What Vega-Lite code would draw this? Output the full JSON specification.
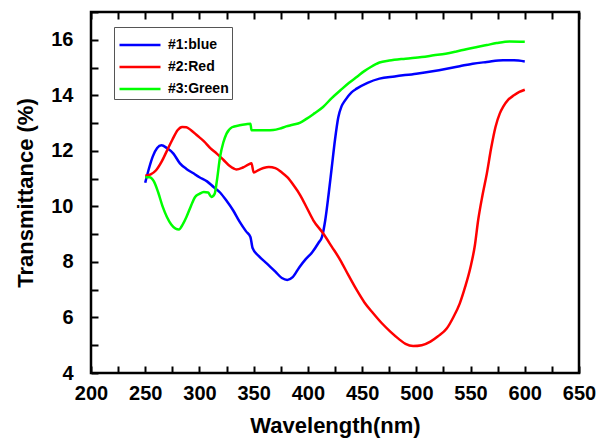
{
  "$schema": "https://vega.github.io/schema/vega-lite/v6.json",
  "width": 488,
  "height": 361,
  "autosize": "none",
  "padding": {"left": 91, "top": 12, "right": 18, "bottom": 68},
  "background": "white",
  "config": {
    "font": "Liberation Sans",
    "view": {"stroke": "black", "strokeWidth": 2.5},
    "axis": {
      "grid": false,
      "domain": false,
      "labelFontWeight": "bold",
      "labelFontSize": 20,
      "labelFlush": false,
      "labelOverlap": false
    }
  },
  "data": {
    "values": [
      {"wl": 250, "t": 10.85, "s": "#1:blue"},
      {"wl": 253, "t": 11.3, "s": "#1:blue"},
      {"wl": 257, "t": 11.8, "s": "#1:blue"},
      {"wl": 261, "t": 12.1, "s": "#1:blue"},
      {"wl": 265, "t": 12.2, "s": "#1:blue"},
      {"wl": 270, "t": 12.1, "s": "#1:blue"},
      {"wl": 276, "t": 11.9, "s": "#1:blue"},
      {"wl": 282, "t": 11.55, "s": "#1:blue"},
      {"wl": 288, "t": 11.35, "s": "#1:blue"},
      {"wl": 294, "t": 11.2, "s": "#1:blue"},
      {"wl": 300, "t": 11.05, "s": "#1:blue"},
      {"wl": 307, "t": 10.9, "s": "#1:blue"},
      {"wl": 313, "t": 10.7, "s": "#1:blue"},
      {"wl": 319, "t": 10.5, "s": "#1:blue"},
      {"wl": 325, "t": 10.2, "s": "#1:blue"},
      {"wl": 331, "t": 9.86, "s": "#1:blue"},
      {"wl": 337, "t": 9.45, "s": "#1:blue"},
      {"wl": 343, "t": 9.1, "s": "#1:blue"},
      {"wl": 347, "t": 8.9, "s": "#1:blue"},
      {"wl": 349, "t": 8.5, "s": "#1:blue"},
      {"wl": 355, "t": 8.2, "s": "#1:blue"},
      {"wl": 362, "t": 7.95, "s": "#1:blue"},
      {"wl": 370, "t": 7.65, "s": "#1:blue"},
      {"wl": 376, "t": 7.42, "s": "#1:blue"},
      {"wl": 381, "t": 7.35, "s": "#1:blue"},
      {"wl": 386, "t": 7.45, "s": "#1:blue"},
      {"wl": 392, "t": 7.8, "s": "#1:blue"},
      {"wl": 398, "t": 8.1, "s": "#1:blue"},
      {"wl": 404, "t": 8.35, "s": "#1:blue"},
      {"wl": 410, "t": 8.7, "s": "#1:blue"},
      {"wl": 413, "t": 8.9, "s": "#1:blue"},
      {"wl": 416, "t": 9.5, "s": "#1:blue"},
      {"wl": 419, "t": 10.4, "s": "#1:blue"},
      {"wl": 422, "t": 11.4, "s": "#1:blue"},
      {"wl": 425, "t": 12.4, "s": "#1:blue"},
      {"wl": 428, "t": 13.2, "s": "#1:blue"},
      {"wl": 431, "t": 13.6, "s": "#1:blue"},
      {"wl": 434, "t": 13.8, "s": "#1:blue"},
      {"wl": 440, "t": 14.1, "s": "#1:blue"},
      {"wl": 445, "t": 14.24, "s": "#1:blue"},
      {"wl": 455, "t": 14.45, "s": "#1:blue"},
      {"wl": 466, "t": 14.6, "s": "#1:blue"},
      {"wl": 480, "t": 14.68, "s": "#1:blue"},
      {"wl": 500, "t": 14.78, "s": "#1:blue"},
      {"wl": 515, "t": 14.87, "s": "#1:blue"},
      {"wl": 528, "t": 14.96, "s": "#1:blue"},
      {"wl": 540, "t": 15.05, "s": "#1:blue"},
      {"wl": 552, "t": 15.14, "s": "#1:blue"},
      {"wl": 565, "t": 15.2, "s": "#1:blue"},
      {"wl": 580, "t": 15.26, "s": "#1:blue"},
      {"wl": 590, "t": 15.26, "s": "#1:blue"},
      {"wl": 600, "t": 15.22, "s": "#1:blue"},
      {"wl": 250, "t": 11.1, "s": "#2:Red"},
      {"wl": 255, "t": 11.15, "s": "#2:Red"},
      {"wl": 260, "t": 11.3, "s": "#2:Red"},
      {"wl": 265, "t": 11.6, "s": "#2:Red"},
      {"wl": 270, "t": 12.0, "s": "#2:Red"},
      {"wl": 275, "t": 12.4, "s": "#2:Red"},
      {"wl": 280, "t": 12.75, "s": "#2:Red"},
      {"wl": 284, "t": 12.86, "s": "#2:Red"},
      {"wl": 288, "t": 12.85, "s": "#2:Red"},
      {"wl": 292, "t": 12.75, "s": "#2:Red"},
      {"wl": 298, "t": 12.55, "s": "#2:Red"},
      {"wl": 304, "t": 12.35, "s": "#2:Red"},
      {"wl": 310, "t": 12.1, "s": "#2:Red"},
      {"wl": 316, "t": 11.9, "s": "#2:Red"},
      {"wl": 322, "t": 11.68, "s": "#2:Red"},
      {"wl": 328, "t": 11.45, "s": "#2:Red"},
      {"wl": 334, "t": 11.33, "s": "#2:Red"},
      {"wl": 340, "t": 11.4, "s": "#2:Red"},
      {"wl": 345, "t": 11.5, "s": "#2:Red"},
      {"wl": 348, "t": 11.55, "s": "#2:Red"},
      {"wl": 350, "t": 11.22, "s": "#2:Red"},
      {"wl": 354, "t": 11.3, "s": "#2:Red"},
      {"wl": 359, "t": 11.38, "s": "#2:Red"},
      {"wl": 364, "t": 11.42, "s": "#2:Red"},
      {"wl": 370, "t": 11.38, "s": "#2:Red"},
      {"wl": 376, "t": 11.22, "s": "#2:Red"},
      {"wl": 381, "t": 11.05, "s": "#2:Red"},
      {"wl": 387, "t": 10.75, "s": "#2:Red"},
      {"wl": 393, "t": 10.4, "s": "#2:Red"},
      {"wl": 399, "t": 9.95, "s": "#2:Red"},
      {"wl": 405, "t": 9.5, "s": "#2:Red"},
      {"wl": 414, "t": 9.03, "s": "#2:Red"},
      {"wl": 422, "t": 8.55, "s": "#2:Red"},
      {"wl": 430, "t": 8.06, "s": "#2:Red"},
      {"wl": 437, "t": 7.55, "s": "#2:Red"},
      {"wl": 445, "t": 6.99, "s": "#2:Red"},
      {"wl": 452, "t": 6.55, "s": "#2:Red"},
      {"wl": 460, "t": 6.16, "s": "#2:Red"},
      {"wl": 468, "t": 5.8, "s": "#2:Red"},
      {"wl": 476, "t": 5.49, "s": "#2:Red"},
      {"wl": 484, "t": 5.22, "s": "#2:Red"},
      {"wl": 490, "t": 5.05, "s": "#2:Red"},
      {"wl": 497, "t": 4.97, "s": "#2:Red"},
      {"wl": 505, "t": 5.0, "s": "#2:Red"},
      {"wl": 513, "t": 5.13, "s": "#2:Red"},
      {"wl": 520, "t": 5.32, "s": "#2:Red"},
      {"wl": 528, "t": 5.6, "s": "#2:Red"},
      {"wl": 534, "t": 6.0, "s": "#2:Red"},
      {"wl": 540, "t": 6.5, "s": "#2:Red"},
      {"wl": 545, "t": 7.1, "s": "#2:Red"},
      {"wl": 550, "t": 7.82, "s": "#2:Red"},
      {"wl": 554, "t": 8.6, "s": "#2:Red"},
      {"wl": 557, "t": 9.5, "s": "#2:Red"},
      {"wl": 561, "t": 10.4, "s": "#2:Red"},
      {"wl": 565, "t": 11.18, "s": "#2:Red"},
      {"wl": 569, "t": 12.1, "s": "#2:Red"},
      {"wl": 573, "t": 12.86, "s": "#2:Red"},
      {"wl": 577, "t": 13.35, "s": "#2:Red"},
      {"wl": 580, "t": 13.58, "s": "#2:Red"},
      {"wl": 585, "t": 13.85, "s": "#2:Red"},
      {"wl": 590, "t": 14.0, "s": "#2:Red"},
      {"wl": 595, "t": 14.12, "s": "#2:Red"},
      {"wl": 600, "t": 14.2, "s": "#2:Red"},
      {"wl": 250, "t": 11.05, "s": "#3:Green"},
      {"wl": 254, "t": 11.05, "s": "#3:Green"},
      {"wl": 258, "t": 10.9, "s": "#3:Green"},
      {"wl": 262, "t": 10.5, "s": "#3:Green"},
      {"wl": 266, "t": 10.0, "s": "#3:Green"},
      {"wl": 270, "t": 9.62, "s": "#3:Green"},
      {"wl": 274, "t": 9.35, "s": "#3:Green"},
      {"wl": 278, "t": 9.2, "s": "#3:Green"},
      {"wl": 281, "t": 9.17, "s": "#3:Green"},
      {"wl": 285, "t": 9.38, "s": "#3:Green"},
      {"wl": 288, "t": 9.62, "s": "#3:Green"},
      {"wl": 292, "t": 10.0, "s": "#3:Green"},
      {"wl": 296, "t": 10.34, "s": "#3:Green"},
      {"wl": 300, "t": 10.45, "s": "#3:Green"},
      {"wl": 304, "t": 10.52, "s": "#3:Green"},
      {"wl": 308, "t": 10.5, "s": "#3:Green"},
      {"wl": 311, "t": 10.34, "s": "#3:Green"},
      {"wl": 314, "t": 10.45, "s": "#3:Green"},
      {"wl": 316, "t": 10.9, "s": "#3:Green"},
      {"wl": 319, "t": 11.78, "s": "#3:Green"},
      {"wl": 322, "t": 12.3, "s": "#3:Green"},
      {"wl": 325, "t": 12.62, "s": "#3:Green"},
      {"wl": 330, "t": 12.85, "s": "#3:Green"},
      {"wl": 337, "t": 12.92, "s": "#3:Green"},
      {"wl": 343, "t": 12.96, "s": "#3:Green"},
      {"wl": 347, "t": 12.98, "s": "#3:Green"},
      {"wl": 348, "t": 12.74, "s": "#3:Green"},
      {"wl": 355, "t": 12.74, "s": "#3:Green"},
      {"wl": 362, "t": 12.74, "s": "#3:Green"},
      {"wl": 368, "t": 12.75, "s": "#3:Green"},
      {"wl": 374, "t": 12.8, "s": "#3:Green"},
      {"wl": 380, "t": 12.88, "s": "#3:Green"},
      {"wl": 386, "t": 12.94, "s": "#3:Green"},
      {"wl": 393, "t": 13.02, "s": "#3:Green"},
      {"wl": 399, "t": 13.16, "s": "#3:Green"},
      {"wl": 406, "t": 13.35, "s": "#3:Green"},
      {"wl": 414, "t": 13.58, "s": "#3:Green"},
      {"wl": 422, "t": 13.9, "s": "#3:Green"},
      {"wl": 430, "t": 14.18, "s": "#3:Green"},
      {"wl": 438, "t": 14.45, "s": "#3:Green"},
      {"wl": 445, "t": 14.66, "s": "#3:Green"},
      {"wl": 452, "t": 14.87, "s": "#3:Green"},
      {"wl": 458, "t": 15.02, "s": "#3:Green"},
      {"wl": 466, "t": 15.18, "s": "#3:Green"},
      {"wl": 475, "t": 15.25, "s": "#3:Green"},
      {"wl": 490, "t": 15.32, "s": "#3:Green"},
      {"wl": 505, "t": 15.38, "s": "#3:Green"},
      {"wl": 516, "t": 15.44, "s": "#3:Green"},
      {"wl": 527, "t": 15.5, "s": "#3:Green"},
      {"wl": 537, "t": 15.58, "s": "#3:Green"},
      {"wl": 546, "t": 15.66, "s": "#3:Green"},
      {"wl": 556, "t": 15.74, "s": "#3:Green"},
      {"wl": 565, "t": 15.81, "s": "#3:Green"},
      {"wl": 574, "t": 15.88, "s": "#3:Green"},
      {"wl": 586, "t": 15.94, "s": "#3:Green"},
      {"wl": 600, "t": 15.93, "s": "#3:Green"}
    ]
  },
  "layer": [
    {
      "mark": {"type": "line", "strokeWidth": 2.5, "interpolate": "monotone"},
      "encoding": {
        "x": {
          "field": "wl", "type": "quantitative",
          "scale": {"domain": [200, 650], "nice": false, "zero": false},
          "axis": {
            "values": [200, 225, 250, 275, 300, 325, 350, 375, 400, 425, 450, 475, 500, 525, 550, 575, 600, 625, 650],
            "labelExpr": "datum.value % 50 === 0 ? datum.label : ''",
            "tickSize": -7, "tickColor": "#000000", "tickWidth": 2, "zindex": 1,
            "labelPadding": 17,
            "title": "Wavelength(nm)",
            "titleFontSize": 22, "titleFontWeight": "bold",
            "titlePadding": 12
          }
        },
        "y": {
          "field": "t", "type": "quantitative",
          "scale": {"domain": [4, 17], "nice": false, "zero": false},
          "axis": {
            "values": [4, 5, 6, 7, 8, 9, 10, 11, 12, 13, 14, 15, 16, 17],
            "labelExpr": "datum.value % 2 === 0 ? datum.label : ''",
            "tickSize": -7, "tickColor": "#000000", "tickWidth": 2, "zindex": 1,
            "labelPadding": 25,
            "title": "Transmittance (%)",
            "titleFontSize": 22, "titleFontWeight": "bold",
            "titlePadding": 13
          }
        },
        "color": {
          "field": "s", "type": "nominal",
          "scale": {"domain": ["#1:blue", "#2:Red", "#3:Green"], "range": ["#0000ff", "#ff0000", "#00ff00"]},
          "legend": {
            "title": " ",
            "titleFontSize": 5,
            "titlePadding": 3,
            "orient": "none",
            "legendX": 23,
            "legendY": 15,
            "symbolType": "stroke",
            "symbolSize": 1681,
            "symbolStrokeWidth": 2.5,
            "symbolOffset": 1,
            "clipHeight": 14,
            "labelFontWeight": "bold",
            "labelFontSize": 14,
            "labelColor": "black",
            "labelOffset": 6,
            "strokeColor": "#555555",
            "padding": 3,
            "rowPadding": 8
          }
        }
      }
    },
    {
      "mark": {"type": "line", "opacity": 0},
      "encoding": {
        "x": {
          "field": "wl", "type": "quantitative",
          "axis": {"orient": "top", "values": [200, 225, 250, 275, 300, 325, 350, 375, 400, 425, 450, 475, 500, 525, 550, 575, 600, 625, 650], "tickSize": -7, "tickColor": "#000000", "tickWidth": 2, "zindex": 1, "labels": false, "title": null}
        },
        "y": {"field": "t", "type": "quantitative", "axis": null}
      }
    }
  ],
  "resolve": {"axis": {"x": "independent", "y": "independent"}}
}
